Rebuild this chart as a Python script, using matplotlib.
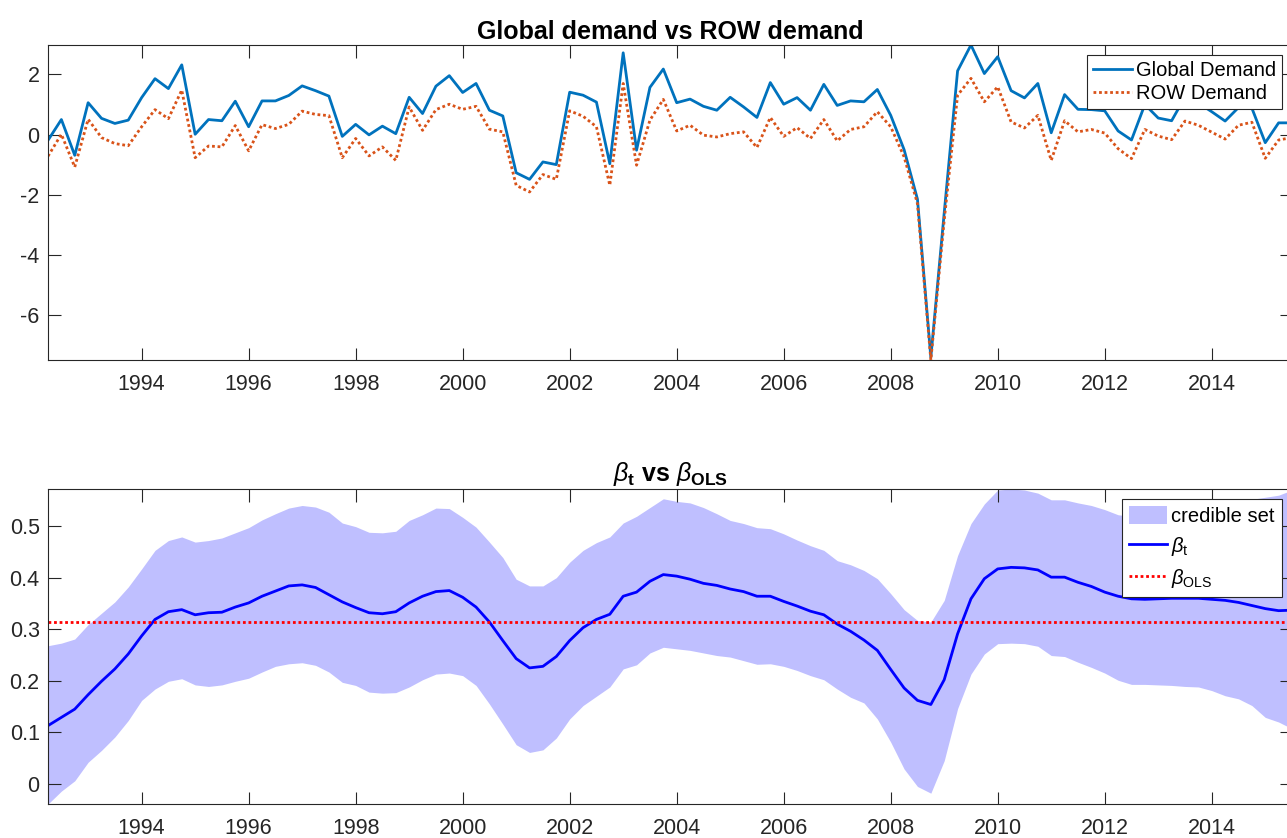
import numpy as np
import matplotlib
matplotlib.use("Agg")
import matplotlib.pyplot as plt

plt.rcParams['font.family'] = ['Liberation Sans', 'DejaVu Sans']
plt.rcParams['mathtext.fontset'] = 'custom'
plt.rcParams['mathtext.rm'] = 'Liberation Sans'
plt.rcParams['mathtext.it'] = 'Liberation Sans:italic'
plt.rcParams['mathtext.bf'] = 'Liberation Sans:bold'
plt.rcParams['axes.unicode_minus'] = False

# quarterly sample 1992Q2 - 2015Q3
start_year = 1992.25
n_quarters = 94
dates = start_year + 0.25 * np.arange(n_quarters)

global_demand = [
    -0.19, 0.50, -0.69, 1.06, 0.54, 0.37, 0.48, 1.23, 1.86, 1.53,
    2.32, 0.01, 0.50, 0.46, 1.11, 0.26, 1.12, 1.12, 1.30, 1.62,
    1.46, 1.28, -0.06, 0.34, -0.01, 0.28, 0.03, 1.24, 0.70, 1.61,
    1.96, 1.40, 1.70, 0.81, 0.62, -1.27, -1.49, -0.91, -1.00, 1.41,
    1.31, 1.08, -0.97, 2.72, -0.52, 1.57, 2.18, 1.06, 1.18, 0.94,
    0.81, 1.24, 0.92, 0.57, 1.73, 1.01, 1.23, 0.81, 1.67, 0.97,
    1.12, 1.09, 1.50, 0.64, -0.50, -2.15, -7.41, -2.60, 2.12, 2.98,
    2.03, 2.59, 1.46, 1.22, 1.70, 0.06, 1.33, 0.84, 0.83, 0.79,
    0.12, -0.18, 1.00, 0.55, 0.46, 1.25, 1.05, 0.76, 0.45, 0.90,
    0.88, -0.27, 0.39, 0.39,
]

row_demand = [
    -0.72, 0.01, -1.08, 0.51, -0.10, -0.30, -0.37, 0.26, 0.83, 0.53,
    1.48, -0.77, -0.38, -0.41, 0.30, -0.54, 0.33, 0.20, 0.34, 0.78,
    0.67, 0.63, -0.77, -0.13, -0.71, -0.41, -0.86, 0.92, 0.14, 0.83,
    1.01, 0.84, 0.94, 0.18, 0.09, -1.69, -1.91, -1.33, -1.49, 0.79,
    0.61, 0.26, -1.69, 1.70, -1.02, 0.48, 1.17, 0.12, 0.31, -0.02,
    -0.08, 0.03, 0.09, -0.43, 0.57, -0.06, 0.23, -0.13, 0.50, -0.21,
    0.17, 0.26, 0.76, 0.26, -0.74, -2.30, -7.50, -2.85, 1.31, 1.87,
    1.09, 1.59, 0.42, 0.22, 0.64, -0.86, 0.46, 0.09, 0.17, 0.05,
    -0.47, -0.80, 0.17, -0.05, -0.17, 0.45, 0.31, 0.08, -0.15, 0.31,
    0.41, -0.79, -0.18, -0.10,
]

beta_t = [
    0.113, 0.129, 0.145, 0.173, 0.199, 0.223, 0.252, 0.287, 0.319, 0.334,
    0.338, 0.328, 0.332, 0.333, 0.343, 0.351, 0.364, 0.374, 0.384, 0.386,
    0.381, 0.367, 0.353, 0.342, 0.332, 0.330, 0.334, 0.351, 0.364, 0.373,
    0.375, 0.362, 0.343, 0.314, 0.278, 0.243, 0.225, 0.228, 0.247, 0.278,
    0.303, 0.319, 0.329, 0.364, 0.372, 0.393, 0.406, 0.403, 0.397, 0.389,
    0.385, 0.378, 0.373, 0.364, 0.364, 0.354, 0.345, 0.335, 0.328, 0.310,
    0.296, 0.279, 0.259, 0.222, 0.186, 0.162, 0.154, 0.202, 0.291, 0.359,
    0.398, 0.417, 0.420, 0.419, 0.415, 0.401, 0.401, 0.391, 0.383, 0.372,
    0.364, 0.359, 0.358, 0.359, 0.360, 0.360, 0.360, 0.358, 0.356, 0.352,
    0.346, 0.340, 0.336, 0.337,
]

band_upper = [
    0.268, 0.273, 0.281, 0.309, 0.331, 0.353, 0.382, 0.417, 0.453, 0.472,
    0.479, 0.469, 0.472, 0.477, 0.487, 0.497, 0.512, 0.524, 0.535, 0.540,
    0.537, 0.527, 0.506, 0.499, 0.488, 0.487, 0.490, 0.511, 0.522, 0.535,
    0.534, 0.517, 0.498, 0.469, 0.439, 0.397, 0.384, 0.384, 0.400, 0.430,
    0.453, 0.468, 0.479, 0.506, 0.519, 0.536, 0.553, 0.548, 0.545, 0.536,
    0.524, 0.511, 0.505, 0.497, 0.495, 0.485, 0.473, 0.462, 0.453, 0.433,
    0.425, 0.414, 0.398, 0.369, 0.338, 0.317, 0.314, 0.356, 0.443, 0.505,
    0.543, 0.570, 0.572, 0.570, 0.564, 0.551, 0.551, 0.545, 0.540, 0.532,
    0.522, 0.519, 0.517, 0.516, 0.517, 0.520, 0.525, 0.531, 0.538, 0.545,
    0.552, 0.556, 0.560, 0.570,
]

band_lower = [
    -0.039, -0.014, 0.006, 0.042, 0.065, 0.091, 0.123, 0.162, 0.184, 0.199,
    0.204, 0.192, 0.189, 0.192, 0.199, 0.205, 0.217, 0.228, 0.233, 0.235,
    0.230, 0.217, 0.197, 0.191, 0.178, 0.176, 0.177, 0.188, 0.202, 0.213,
    0.215, 0.210, 0.191, 0.155, 0.116, 0.076, 0.061, 0.066, 0.089, 0.126,
    0.152, 0.170, 0.188, 0.223, 0.231, 0.254, 0.265, 0.262, 0.259, 0.254,
    0.249, 0.246, 0.239, 0.232, 0.233, 0.228, 0.220, 0.210, 0.202, 0.184,
    0.168, 0.157, 0.126, 0.081, 0.029, -0.005, -0.018, 0.045, 0.146, 0.213,
    0.252, 0.272, 0.273, 0.272, 0.267, 0.249, 0.247, 0.236, 0.226, 0.215,
    0.201, 0.193, 0.193, 0.192, 0.191, 0.189, 0.188, 0.181, 0.171, 0.165,
    0.152, 0.129, 0.120, 0.107,
]

beta_ols = 0.314

year_ticks = list(range(1994, 2015, 2))

axis_color = '#262626'


def style_axes(ax):
    ax.set_xticks(year_ticks)
    ax.set_xticklabels([str(y) for y in year_ticks])
    ax.tick_params(direction='in', length=9, width=0.8, top=True, right=True,
                   labelsize=15.5, colors=axis_color)
    ax.tick_params(axis='x', pad=10)
    ax.tick_params(axis='y', pad=6)
    for s in ax.spines.values():
        s.set_color(axis_color)
        s.set_linewidth(0.8)


fig = plt.figure(figsize=(12.87, 8.38), dpi=100)
W, H = 1287.0, 838.0
ax1 = fig.add_axes([48 / W, 1 - 360 / H, 1244 / W, 315 / H])
ax2 = fig.add_axes([48 / W, 1 - 804 / H, 1244 / W, 315 / H])

# top panel: global vs rest-of-world demand shocks
ax1.plot(dates, global_demand, color='#0072BD', lw=2.0, label='Global Demand')
ax1.plot(dates, row_demand, color='#D95319', lw=2.0, linestyle=(0, (1, 1)),
         label='ROW Demand')
ax1.set_xlim(dates[0], dates[-1])
ax1.set_ylim(min(min(global_demand), min(row_demand)),
             max(max(global_demand), max(row_demand)))
ax1.set_yticks([-6, -4, -2, 0, 2])
style_axes(ax1)
ax1.set_title('Global demand vs ROW demand', fontsize=18, fontweight='bold', pad=4)
leg1 = ax1.legend(loc='upper right', fontsize=14.5, frameon=True, fancybox=False,
                  framealpha=1, edgecolor=axis_color, borderpad=0.3,
                  labelspacing=0.2, handlelength=1.9, handletextpad=0.2,
                  borderaxespad=0.5)
leg1.get_frame().set_linewidth(0.8)

# bottom panel: time-varying beta with credible set
ax2.fill_between(dates, band_lower, band_upper, color=(0.75, 0.75, 1.0),
                 linewidth=0, label='credible set')
ax2.plot(dates, beta_t, color='b', lw=2.0, label=r'$\beta_{\rm t}$')
ax2.axhline(beta_ols, color='r', lw=2.0, linestyle=(0, (1, 1)),
            label=r'$\beta_{\rm OLS}$')
ax2.set_xlim(dates[0], dates[-1])
ax2.set_ylim(min(band_lower), max(band_upper))
ax2.set_yticks([0, 0.1, 0.2, 0.3, 0.4, 0.5])
ax2.set_yticklabels(['0', '0.1', '0.2', '0.3', '0.4', '0.5'])
style_axes(ax2)
ax2.set_title(r'$\beta_{\mathbf{t}}$ vs $\beta_{\mathbf{OLS}}$', fontsize=18,
              fontweight='bold', pad=6)
leg2 = ax2.legend(loc='upper right', fontsize=14.5, frameon=True, fancybox=False,
                  framealpha=1, edgecolor=axis_color, borderpad=0.35,
                  labelspacing=0.45, handlelength=1.9, handletextpad=0.2,
                  handleheight=1.0, borderaxespad=0.5)
leg2.get_frame().set_linewidth(0.8)

fig.savefig('out.png', dpi=100)
